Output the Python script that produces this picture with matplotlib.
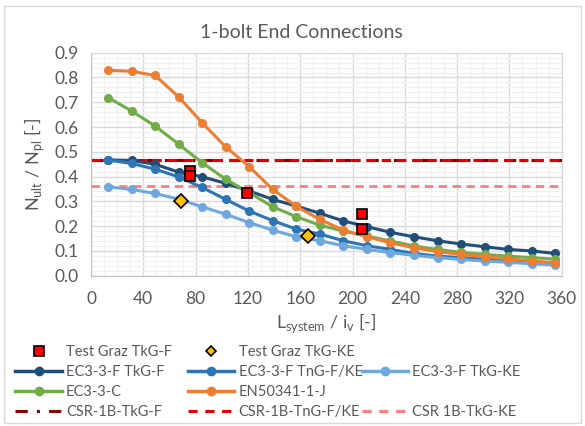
import matplotlib.pyplot as plt
from matplotlib.lines import Line2D
from matplotlib.patches import Rectangle

plt.rcParams['font.family'] = ['Lato', 'DejaVu Sans']

# slenderness values of the computed curves
slenderness = [13, 31, 49, 67, 85, 103, 121, 139, 157, 175,
               193, 211, 229, 247, 265, 283, 301, 319, 337, 355]

ec3_f_tkg_f = [0.467, 0.465, 0.450, 0.418, 0.399, 0.373, 0.342, 0.308, 0.281, 0.252,
               0.221, 0.198, 0.175, 0.157, 0.141, 0.128, 0.117, 0.106, 0.100, 0.090]
ec3_f_tng_fke = [0.467, 0.453, 0.430, 0.399, 0.356, 0.308, 0.261, 0.222, 0.188, 0.168,
                 0.141, 0.121, 0.106, 0.090, 0.079, 0.073, 0.066, 0.059, 0.054, 0.050]
ec3_f_tkg_ke = [0.359, 0.348, 0.332, 0.309, 0.278, 0.248, 0.214, 0.184, 0.157, 0.141,
                0.121, 0.106, 0.093, 0.082, 0.073, 0.066, 0.059, 0.054, 0.048, 0.043]
ec3_c = [0.719, 0.665, 0.604, 0.531, 0.456, 0.389, 0.335, 0.278, 0.238, 0.204,
         0.180, 0.160, 0.140, 0.120, 0.106, 0.094, 0.086, 0.079, 0.073, 0.067]
en50341_j = [0.829, 0.825, 0.808, 0.722, 0.617, 0.520, 0.440, 0.348, 0.280, 0.227,
             0.184, 0.157, 0.133, 0.113, 0.097, 0.086, 0.077, 0.067, 0.060, 0.052]

# test results
test_tkg_f_x = [76, 76, 119.5, 207, 207]
test_tkg_f_y = [0.423, 0.402, 0.335, 0.248, 0.187]
test_tkg_ke_x = [69, 166]
test_tkg_ke_y = [0.302, 0.160]

# design resistance levels (CSR)
csr_tkg_f = 0.468
csr_tng_fke = 0.468
csr_tkg_ke = 0.362

fig = plt.figure(figsize=(5.85, 4.26), dpi=100)
ax = fig.add_axes([0.1556, 0.3528, 0.8046, 0.5235])

gray = '#595959'
lw = 2.2
ms = 5.5

ax.plot([0, 360], [csr_tkg_f] * 2, color='#8B0000', lw=2.2, ls=(0, (4, 2, 1, 2)), zorder=2)
ax.plot([0, 360], [csr_tng_fke] * 2, color='#E00000', lw=2.2, ls=(0, (3, 2)), zorder=2)
ax.plot([0, 360], [csr_tkg_ke] * 2, color='#FF7C80', lw=2.0, ls=(0, (3, 2)), zorder=2)

ax.plot(slenderness, ec3_f_tkg_f, color='#1F4E79', lw=lw, marker='o', ms=ms, zorder=3)
ax.plot(slenderness, ec3_f_tng_fke, color='#2E75B6', lw=lw, marker='o', ms=ms, zorder=3)
ax.plot(slenderness, ec3_f_tkg_ke, color='#6FA8DC', lw=lw, marker='o', ms=ms, zorder=3)
ax.plot(slenderness, ec3_c, color='#70AD47', lw=lw, marker='o', ms=ms, zorder=3)
ax.plot(slenderness, en50341_j, color='#ED7D31', lw=lw, marker='o', ms=ms, zorder=3)

ax.plot(test_tkg_f_x, test_tkg_f_y, ls='none', marker='s', ms=7.5, mfc='#FF0000',
        mec='black', mew=1.2, zorder=4)
ax.plot(test_tkg_ke_x, test_tkg_ke_y, ls='none', marker='D', ms=7, mfc='#FFC000',
        mec='black', mew=1.2, zorder=4)

ax.set_xlim(0, 360)
ax.set_ylim(0, 0.9)
ax.set_xticks(range(0, 361, 40))
ax.set_yticks([i / 10 for i in range(10)])
ax.set_yticklabels([f'{i / 10:.1f}' for i in range(10)])
ax.set_xticks(range(0, 361, 10), minor=True)
ax.set_yticks([i / 50 for i in range(46)], minor=True)
ax.grid(which='major', color='#D9D9D9', lw=1.0, zorder=0)
ax.grid(which='minor', color='#F0F0F0', lw=0.9, zorder=0)
ax.set_axisbelow(True)
ax.tick_params(which='both', length=0, labelsize=12.5, colors=gray, pad=9)
ax.tick_params(axis='x', pad=11)
for side in ['top', 'right']:
    ax.spines[side].set_color('#D9D9D9')
for side in ['left', 'bottom']:
    ax.spines[side].set_color('#BFBFBF')

fig.text(0.515, 0.924, '1-bolt End Connections', fontsize=14, color=gray,
         ha='center', va='center')
ax.set_xlabel(r'L$_{\mathregular{system}}$ / i$_{\mathregular{v}}$ [-]', fontsize=13,
              color=gray, labelpad=3)
ax.set_ylabel(r'N$_{\mathregular{ult}}$ / N$_{\mathregular{pl}}$ [-]', fontsize=13,
              color=gray, labelpad=6)

# legend: three columns, each its own legend so the columns line up
h_sq = Line2D([], [], ls='none', marker='s', ms=7, mfc='#FF0000', mec='black', mew=1.2)
h_di = Line2D([], [], ls='none', marker='D', ms=5, mfc='#FFC000', mec='black', mew=1.2)
h_n = Line2D([], [], color='#1F4E79', lw=2.5, marker='o', ms=6)
h_m = Line2D([], [], color='#2E75B6', lw=2.5, marker='o', ms=6)
h_l = Line2D([], [], color='#6FA8DC', lw=2.5, marker='o', ms=6)
h_g = Line2D([], [], color='#70AD47', lw=2.5, marker='o', ms=6)
h_o = Line2D([], [], color='#ED7D31', lw=2.5, marker='o', ms=6)
h_dr = Line2D([], [], color='#8B0000', lw=2.2, ls=(0, (4, 3, 1, 3)))
h_r = Line2D([], [], color='#E00000', lw=2.2, ls=(0, (3, 2.5)))
h_p = Line2D([], [], color='#FF7C80', lw=2.2, ls=(0, (3, 2.5)))
blank = Line2D([], [], ls='none')

columns = [
    (0.026, [h_sq, h_n, h_g, h_dr],
     ['Test Graz TkG-F', 'EC3-3-F TkG-F', 'EC3-3-C', 'CSR-1B-TkG-F']),
    (0.321, [h_di, h_m, h_o, h_r],
     ['Test Graz TkG-KE', 'EC3-3-F TnG-F/KE', 'EN50341-1-J', 'CSR-1B-TnG-F/KE']),
    (0.618, [blank, h_l, blank, h_p],
     [' ', 'EC3-3-F TkG-KE', ' ', 'CSR 1B-TkG-KE']),
]
for x0, hs, ls in columns:
    leg = fig.legend(hs, ls, loc='upper left', bbox_to_anchor=(x0, 0.191),
                     frameon=False, fontsize=10.5, handlelength=3.2, handletextpad=0.28,
                     labelspacing=0.42, borderaxespad=0, borderpad=0)
    for t in leg.get_texts():
        t.set_color(gray)

fig.patches.append(Rectangle((0.006, 0.006), 0.988, 0.98, transform=fig.transFigure,
                             fill=False, ec='#D9D9D9', lw=1.0))

fig.savefig('out.png', dpi=100)
